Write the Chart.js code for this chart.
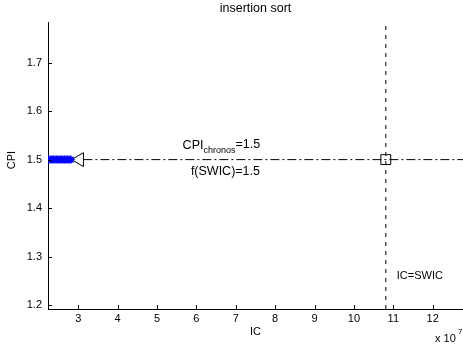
<!DOCTYPE html>
<html>
<head>
<meta charset="utf-8">
<script src="https://cdn.jsdelivr.net/npm/chart.js@4/dist/chart.umd.min.js"></script>
<style>
  html, body { margin: 0; padding: 0; background: #fff; }
  #wrap { width: 463px; height: 349px; }
</style>
</head>
<body>
<div id="wrap"><canvas id="chart" width="463" height="349"></canvas></div>
<script>
// IC values are in units of 1e7
const starIC = [2.25, 2.29, 2.33, 2.37, 2.41, 2.45, 2.49, 2.53, 2.57, 2.61, 2.65, 2.69, 2.73, 2.77, 2.81];
const starCPI = [1.5, 1.5, 1.5, 1.5, 1.5, 1.5, 1.5, 1.5, 1.5, 1.5, 1.5, 1.5, 1.5, 1.5, 1.5];
const chronosIC = 3.03;
const cpiChronos = 1.5;
const swic = 10.81;
const fSwic = 1.5;

const xTicks = [3, 4, 5, 6, 7, 8, 9, 10, 11, 12];
const yTicks = [1.2, 1.3, 1.4, 1.5, 1.6, 1.7];
const xRange = [2.232, 12.77];
const yRange = [1.1917, 1.784];

const FONT = '"Liberation Sans", Arial, Helvetica, sans-serif';

function font(size) {
  return `${size}px ${FONT}`;
}

// MATLAB style: ticks point inward, text labels drawn by hand
const decorations = {
  id: 'decorations',
  afterDraw(chart) {
    const { ctx, chartArea: a } = chart;
    const x = chart.scales.x;
    const y = chart.scales.y;
    ctx.save();
    ctx.strokeStyle = '#000';
    ctx.lineWidth = 1;
    ctx.beginPath();
    xTicks.forEach((v) => {
      const px = Math.round(x.getPixelForValue(v)) + 0.5;
      ctx.moveTo(px, a.bottom);
      ctx.lineTo(px, a.bottom - 4);
    });
    yTicks.forEach((v) => {
      const py = Math.round(y.getPixelForValue(v)) + 0.5;
      ctx.moveTo(a.left, py);
      ctx.lineTo(a.left + 4, py);
    });
    ctx.stroke();

    ctx.fillStyle = '#000';
    ctx.textBaseline = 'middle';
    ctx.textAlign = 'center';
    ctx.font = font(12.5);
    ctx.fillText('insertion sort', (a.left + a.right) / 2, 9);
    ctx.font = font(11);
    ctx.fillText('IC', (a.left + a.right) / 2, 332);

    ctx.textAlign = 'left';
    ctx.fillText('x 10', 435, 339);
    ctx.font = font(8);
    ctx.fillText('7', 458, 332);

    ctx.save();
    ctx.font = font(11);
    ctx.textAlign = 'center';
    ctx.translate(12, 160);
    ctx.rotate(-Math.PI / 2);
    ctx.fillText('CPI', 0, 0);
    ctx.restore();

    // annotations
    ctx.textBaseline = 'alphabetic';
    ctx.textAlign = 'left';
    let tx = x.getPixelForValue(5.65);
    const by = y.getPixelForValue(cpiChronos) - 11;
    ctx.font = font(12.5);
    ctx.fillText('CPI', tx, by);
    tx += ctx.measureText('CPI').width;
    ctx.font = font(9);
    ctx.fillText('chronos', tx, by + 4);
    tx += ctx.measureText('chronos').width;
    ctx.font = font(12.5);
    ctx.fillText('=1.5', tx, by - 1);

    ctx.fillText('f(SWIC)=1.5', x.getPixelForValue(5.86), y.getPixelForValue(fSwic) + 15);

    ctx.font = font(11);
    ctx.textBaseline = 'middle';
    ctx.fillText('IC=SWIC', x.getPixelForValue(swic) + 11, y.getPixelForValue(1.26));
    ctx.restore();
  },
};

const stars = starIC.map((v, i) => ({ x: v, y: starCPI[i] }));

new Chart(document.getElementById('chart'), {
  type: 'scatter',
  data: {
    datasets: [
      {
        data: stars,
        pointStyle: 'star',
        pointRadius: 4,
        borderColor: '#0000ff',
        borderWidth: 1.3,
      },
      {
        data: [{ x: chronosIC, y: cpiChronos }],
        pointStyle: 'triangle',
        rotation: -90,
        pointRadius: 8,
        borderColor: '#000',
        backgroundColor: 'rgba(0,0,0,0)',
        borderWidth: 1,
      },
      {
        data: [{ x: swic, y: fSwic }],
        pointStyle: 'rect',
        pointRadius: 7,
        borderColor: '#000',
        backgroundColor: 'rgba(0,0,0,0)',
        borderWidth: 1,
      },
      {
        data: [{ x: chronosIC + 0.1, y: cpiChronos }, { x: xRange[1], y: cpiChronos }],
        showLine: true,
        pointRadius: 0,
        borderColor: '#000',
        borderWidth: 1,
        borderDash: [9, 3, 2, 3],
      },
      {
        data: [{ x: swic, y: yRange[0] }, { x: swic, y: yRange[1] }],
        showLine: true,
        pointRadius: 0,
        borderColor: '#000',
        borderWidth: 1,
        borderDash: [4, 5],
      },
    ],
  },
  options: {
    responsive: false,
    animation: false,
    layout: { autoPadding: false, padding: { top: 22, right: 0, left: 0, bottom: 0 } },
    plugins: {
      legend: { display: false },
      tooltip: { enabled: false },
    },
    scales: {
      x: {
        type: 'linear',
        min: xRange[0],
        max: xRange[1],
        afterBuildTicks: (s) => { s.ticks = xTicks.map((v) => ({ value: v })); },
        afterFit: (s) => { s.height = 40; s.paddingLeft = 0; s.paddingRight = 0; },
        grid: { display: false, drawTicks: false },
        border: { display: true, color: '#000', width: 1 },
        ticks: { color: '#000', font: { family: FONT, size: 11 }, padding: 3, maxRotation: 0 },
      },
      y: {
        type: 'linear',
        min: yRange[0],
        max: yRange[1],
        afterBuildTicks: (s) => { s.ticks = yTicks.map((v) => ({ value: v })); },
        afterFit: (s) => { s.width = 48; s.paddingTop = 0; s.paddingBottom = 0; },
        grid: { display: false, drawTicks: false },
        border: { display: true, color: '#000', width: 1 },
        ticks: { color: '#000', font: { family: FONT, size: 11 }, padding: 6, callback: (v) => v.toFixed(1) },
      },
    },
  },
  plugins: [decorations],
});
</script>
</body>
</html>
